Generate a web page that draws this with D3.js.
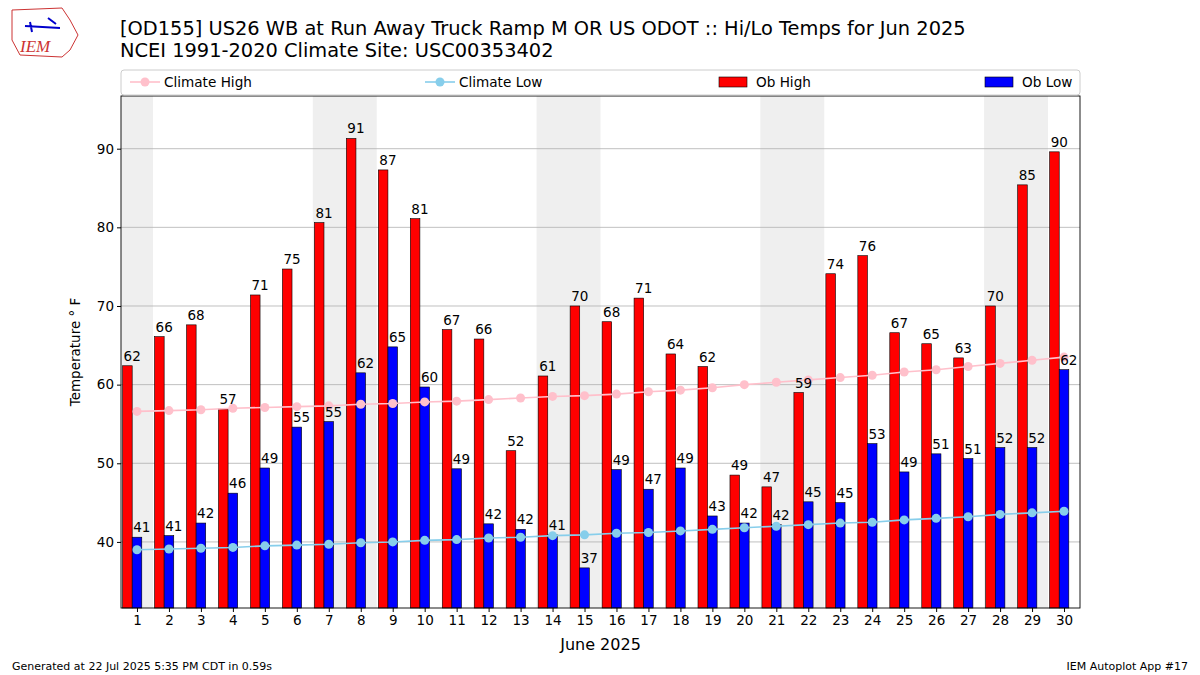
<!DOCTYPE html>
<html><head><meta charset="utf-8">
<script src="https://cdn.jsdelivr.net/npm/d3@7"></script>
<style>body{margin:0;background:#fff}svg{font-family:"DejaVu Sans",sans-serif}</style>
</head><body><svg id="c" width="1200" height="675"></svg>
<script>
const days = d3.range(1,31);
const obHigh = [62.4,66.1,67.6,56.9,71.4,74.7,80.6,91.3,87.3,81.1,67.0,65.8,51.6,61.1,70.0,68.0,71.0,63.9,62.3,48.5,47.0,59.0,74.1,76.4,66.6,65.2,63.4,70.0,85.4,89.6];
const obLow = [40.6,40.8,42.4,46.2,49.4,54.6,55.3,61.5,64.8,59.7,49.3,42.3,41.6,40.9,36.7,49.2,46.7,49.4,43.3,42.4,42.2,45.1,45.0,52.5,48.9,51.2,50.6,52.0,52.0,61.9];
const climHigh = [56.6,56.7,56.8,57.0,57.1,57.2,57.3,57.5,57.6,57.8,57.9,58.1,58.3,58.5,58.6,58.8,59.1,59.3,59.6,60.0,60.3,60.6,60.9,61.2,61.6,61.9,62.3,62.7,63.1,63.5];
const climLow = [39.0,39.1,39.2,39.3,39.5,39.6,39.7,39.9,40.0,40.2,40.3,40.5,40.6,40.8,40.9,41.1,41.2,41.4,41.6,41.8,42.0,42.2,42.4,42.5,42.8,43.0,43.2,43.5,43.7,43.9];
const weekends = [[1],[7,8],[14,15],[21,22],[28,29]];
const yTicks = [40,50,60,70,80,90];

const svg = d3.select("#c");
const L=121,R=1080,T=96,B=608;
const x = d3.scaleLinear().domain([0.5,30.5]).range([L,R]);
const y = d3.scaleLinear().domain([31.6,96.7]).range([B,T]);
const g = svg.append("g");
const bw = x(0.3)-x(0);

weekends.forEach(w=>{
  g.append("rect").attr("x",x(w[0]-0.5)).attr("width",x(w[w.length-1]+0.5)-x(w[0]-0.5))
   .attr("y",T).attr("height",B-T).attr("fill","#efefef");
});
yTicks.forEach(t=>{
  g.append("line").attr("x1",L).attr("x2",R).attr("y1",y(t)).attr("y2",y(t)).attr("stroke","#b0b0b0").attr("stroke-width",0.8);
});
g.selectAll(".hb").data(days).join("rect").attr("x",d=>x(d-0.45)).attr("width",bw)
 .attr("y",(d,i)=>y(obHigh[i])).attr("height",(d,i)=>B-y(obHigh[i])).attr("fill","red").attr("stroke","#000").attr("stroke-width",0.6);
g.selectAll(".lb").data(days).join("rect").attr("x",d=>x(d-0.15)).attr("width",bw)
 .attr("y",(d,i)=>y(obLow[i])).attr("height",(d,i)=>B-y(obLow[i])).attr("fill","blue").attr("stroke","#000").attr("stroke-width",0.6);
const line = arr => d3.line().x((d,i)=>x(days[i])).y(d=>y(d))(arr);
[[climHigh,"pink"],[climLow,"skyblue"]].forEach(([arr,col])=>{
  g.append("path").attr("d",line(arr)).attr("fill","none").attr("stroke",col).attr("stroke-width",1.6);
  g.selectAll(null).data(arr).join("circle").attr("cx",(d,i)=>x(days[i])).attr("cy",d=>y(d)).attr("r",4.5).attr("fill",col);
});
g.selectAll(".ht").data(days).join("text").attr("x",d=>x(d-0.45)+1).attr("y",(d,i)=>y(obHigh[i])-5)
 .attr("font-size",13.5).text((d,i)=>Math.round(obHigh[i]));
g.selectAll(".lt").data(days).join("text").attr("x",d=>x(d-0.15)+1).attr("y",(d,i)=>y(obLow[i])-5)
 .attr("font-size",13.5).text((d,i)=>Math.round(obLow[i]));
g.append("rect").attr("x",L).attr("y",T).attr("width",R-L).attr("height",B-T).attr("fill","none").attr("stroke","#000").attr("stroke-width",0.9);
const xa = svg.append("g").attr("transform",`translate(0,${B})`).call(d3.axisBottom(x).tickValues(days).tickSize(4).tickFormat(d3.format("d")));
const ya = svg.append("g").attr("transform",`translate(${L},0)`).call(d3.axisLeft(y).tickValues(yTicks).tickSize(4));
[xa,ya].forEach(a=>{a.select(".domain").remove();a.selectAll("text").attr("font-size",13.5).attr("font-family","DejaVu Sans").attr("fill","#000");});
svg.append("text").attr("x",(L+R)/2).attr("y",650).attr("text-anchor","middle").attr("font-size",16).text("June 2025");
svg.append("text").attr("transform",`translate(80,${(T+B)/2}) rotate(-90)`).attr("text-anchor","middle").attr("font-size",13.5).text("Temperature ° F");
svg.append("text").attr("x",120).attr("y",35).attr("font-size",19.4).text("[OD155] US26 WB at Run Away Truck Ramp M OR US ODOT :: Hi/Lo Temps for Jun 2025");
svg.append("text").attr("x",120).attr("y",57).attr("font-size",19.4).text("NCEI 1991-2020 Climate Site: USC00353402");
const lg = svg.append("g");
lg.append("rect").attr("x",121).attr("y",70).attr("width",959).attr("height",25).attr("rx",3).attr("fill","#fff").attr("stroke","#ccc");
[[130,"pink","Climate High"],[425,"skyblue","Climate Low"]].forEach(([lx,col,t])=>{
  lg.append("line").attr("x1",lx).attr("x2",lx+30).attr("y1",82).attr("y2",82).attr("stroke",col).attr("stroke-width",1.6);
  lg.append("circle").attr("cx",lx+15).attr("cy",82).attr("r",4.5).attr("fill",col);
  lg.append("text").attr("x",lx+34).attr("y",87).attr("font-size",13.6).text(t);
});
[[719,"red","Ob High"],[985,"blue","Ob Low"]].forEach(([lx,col,t])=>{
  lg.append("rect").attr("x",lx).attr("y",77).attr("width",28).attr("height",10).attr("fill",col).attr("stroke","#000").attr("stroke-width",0.6);
  lg.append("text").attr("x",lx+37).attr("y",87).attr("font-size",13.6).text(t);
});
svg.append("text").attr("x",12).attr("y",670).attr("font-size",11).text("Generated at 22 Jul 2025 5:35 PM CDT in 0.59s");
svg.append("text").attr("x",1188).attr("y",670).attr("text-anchor","end").attr("font-size",11).text("IEM Autoplot App #17");
svg.append("path").attr("d","M12,10 L62,8 L70,20 L78,35 L70,50 L62,57 L20,55 L12,40 Z").attr("fill","none").attr("stroke","#c33").attr("stroke-width",1);
svg.append("text").attr("x",20).attr("y",52).attr("font-size",17).attr("font-style","italic").attr("font-family","Liberation Serif").attr("fill","#c33").text("IEM");
svg.append("path").attr("d","M25,26 L60,28 M48,18 L56,24 M30,22 L32,32").attr("stroke","#00c").attr("stroke-width",2).attr("fill","none");
</script></body></html>
